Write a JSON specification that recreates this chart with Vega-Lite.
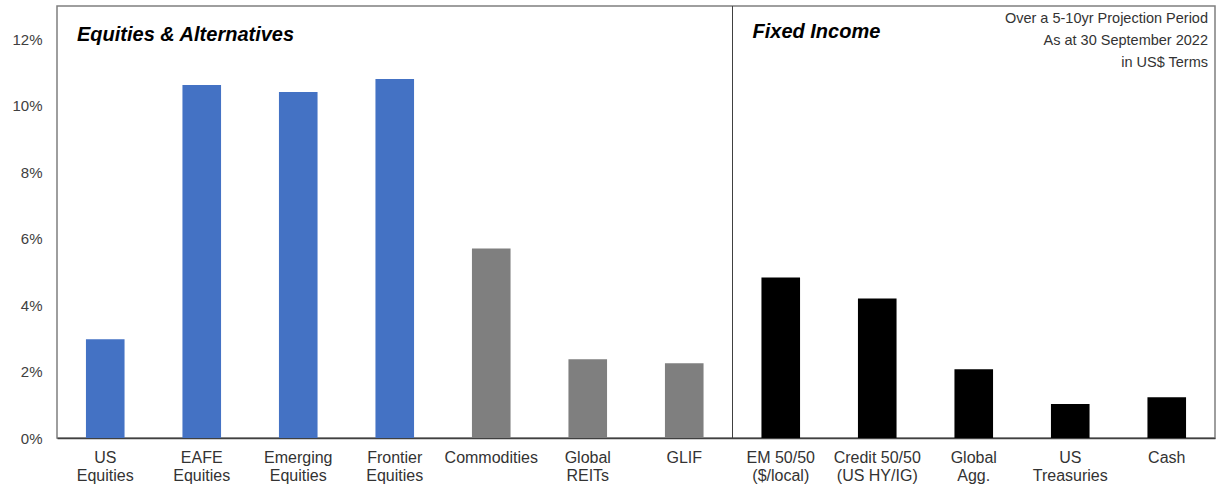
{
  "$schema": "https://vega.github.io/schema/vega-lite/v6.json",
  "width": 1158,
  "height": 432,
  "autosize": {"type": "none"},
  "padding": {"left": 57, "top": 6, "right": 6, "bottom": 50},
  "background": "white",
  "config": {
    "font": "Liberation Sans",
    "view": {"stroke": "#7f7f7f", "strokeWidth": 1.5}
  },
  "datasets": {
    "main": [
      {"asset": "US|Equities", "value": 0.0297, "group": "Equities"},
      {"asset": "EAFE|Equities", "value": 0.1062, "group": "Equities"},
      {"asset": "Emerging|Equities", "value": 0.1041, "group": "Equities"},
      {"asset": "Frontier|Equities", "value": 0.108, "group": "Equities"},
      {"asset": "Commodities", "value": 0.057, "group": "Alternatives"},
      {"asset": "Global|REITs", "value": 0.0237, "group": "Alternatives"},
      {"asset": "GLIF", "value": 0.0225, "group": "Alternatives"},
      {"asset": "EM 50/50|($/local)", "value": 0.0483, "group": "Fixed Income"},
      {"asset": "Credit 50/50|(US HY/IG)", "value": 0.042, "group": "Fixed Income"},
      {"asset": "Global|Agg.", "value": 0.0207, "group": "Fixed Income"},
      {"asset": "US|Treasuries", "value": 0.0102, "group": "Fixed Income"},
      {"asset": "Cash", "value": 0.0123, "group": "Fixed Income"}
    ],
    "sections": [
      {"asset": "US|Equities", "value": 0.12, "label": "Equities & Alternatives"},
      {"asset": "EM 50/50|($/local)", "value": 0.121, "label": "Fixed Income"}
    ],
    "note": [
      {"asset": "Cash", "value": 0.13, "label": "Over a 5-10yr Projection Period\nAs at 30 September 2022\nin US$ Terms"}
    ],
    "divider": [
      {"asset": "GLIF"}
    ]
  },
  "layer": [
    {
      "data": {"name": "main"},
      "mark": {"type": "bar", "width": {"band": 0.4}},
      "encoding": {
        "x": {
          "field": "asset",
          "type": "nominal",
          "sort": null,
          "scale": {
            "domain": ["US|Equities", "EAFE|Equities", "Emerging|Equities", "Frontier|Equities", "Commodities", "Global|REITs", "GLIF", "EM 50/50|($/local)", "Credit 50/50|(US HY/IG)", "Global|Agg.", "US|Treasuries", "Cash"],
            "paddingInner": 0,
            "paddingOuter": 0
          },
          "axis": {
            "title": null,
            "labelAngle": 0,
            "labelExpr": "split(datum.label, '|')",
            "labelFontSize": 16,
            "labelColor": "#333333",
            "labelLineHeight": 18.5,
            "labelPadding": 11,
            "labelBaseline": "top",
            "ticks": false,
            "domainColor": "#404040",
            "domainWidth": 1.5
          }
        },
        "y": {
          "field": "value",
          "type": "quantitative",
          "scale": {"domain": [0, 0.13], "nice": false},
          "axis": {
            "title": null,
            "values": [0, 0.02, 0.04, 0.06, 0.08, 0.1, 0.12],
            "format": ".0%",
            "grid": false,
            "ticks": false,
            "domain": false,
            "labelFontSize": 15,
            "labelColor": "#404040",
            "labelPadding": 15
          }
        },
        "color": {
          "field": "group",
          "type": "nominal",
          "scale": {"domain": ["Equities", "Alternatives", "Fixed Income"], "range": ["#4472C4", "#7F7F7F", "#000000"]},
          "legend": null
        }
      }
    },
    {
      "data": {"name": "divider"},
      "mark": {"type": "rule", "color": "#404040", "strokeWidth": 1},
      "encoding": {
        "x": {"field": "asset", "type": "nominal", "bandPosition": 1}
      }
    },
    {
      "data": {"name": "sections"},
      "mark": {"type": "text", "align": "left", "baseline": "middle", "fontSize": 20, "fontWeight": "bold", "fontStyle": "italic", "color": "#000000", "dx": 20, "dy": -4},
      "encoding": {
        "x": {"field": "asset", "type": "nominal", "bandPosition": 0},
        "y": {"field": "value", "type": "quantitative"},
        "text": {"field": "label"}
      }
    },
    {
      "data": {"name": "note"},
      "mark": {"type": "text", "align": "right", "baseline": "top", "fontSize": 14.5, "color": "#333333", "dx": -7, "dy": 6, "lineHeight": 22, "lineBreak": "\n"},
      "encoding": {
        "x": {"field": "asset", "type": "nominal", "bandPosition": 1},
        "y": {"field": "value", "type": "quantitative"},
        "text": {"field": "label"}
      }
    }
  ]
}
